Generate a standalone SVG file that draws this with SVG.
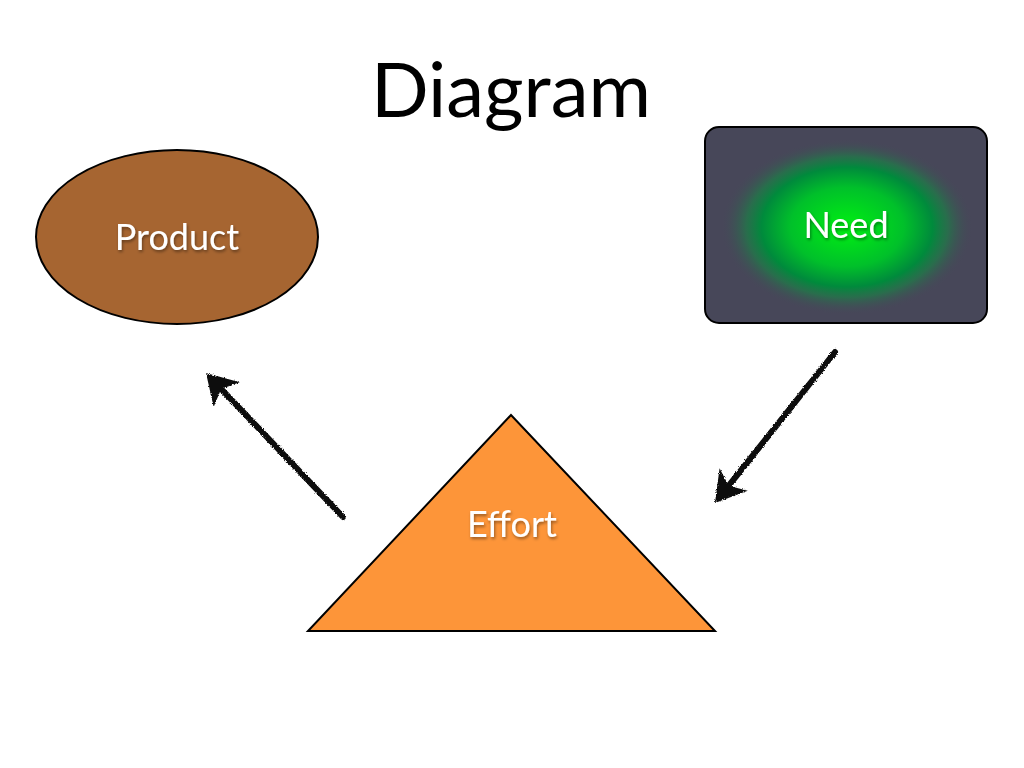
<svg xmlns="http://www.w3.org/2000/svg" width="1024" height="768" viewBox="0 0 1024 768">
<defs>
<style>
.label{font-family:Lato,"Liberation Sans",sans-serif;font-size:36px;fill:#ffffff;text-anchor:middle;filter:url(#shadow)}
.title{font-family:Lato,"Liberation Sans",sans-serif;font-size:76px;fill:#000000;text-anchor:middle}
.shape{stroke:#000000;stroke-width:2}
.conn{fill:none;stroke:#111111;stroke-width:6;stroke-linecap:round;marker-end:url(#head);filter:url(#rough)}
</style>
<filter id="shadow" x="-20%" y="-30%" width="140%" height="160%">
<feDropShadow dx="1" dy="2" stdDeviation="1.5" flood-color="#000000" flood-opacity="0.4"/>
</filter>
<filter id="rough" x="-10%" y="-10%" width="120%" height="120%">
<feTurbulence type="fractalNoise" baseFrequency="0.9" numOctaves="2" seed="3" result="n"/>
<feDisplacementMap in="SourceGraphic" in2="n" scale="3" xChannelSelector="R" yChannelSelector="G"/>
</filter>
<radialGradient id="glow" cx="0.5" cy="0.5" r="0.5">
<stop offset="0" stop-color="#00F012"/>
<stop offset="0.45" stop-color="#00C02A"/>
<stop offset="0.68" stop-color="#008A3C"/>
<stop offset="0.8" stop-color="#1F7A48" stop-opacity="0.75"/>
<stop offset="1" stop-color="#474759" stop-opacity="0"/>
</radialGradient>
<marker id="head" markerUnits="userSpaceOnUse" viewBox="-22 -20 34 40" markerWidth="34" markerHeight="40" refX="0" refY="0" orient="auto">
<path d="M10,0 L-20,-18 L-12,0 L-20,18 Z" fill="#111111"/>
</marker>
</defs>
<rect width="1024" height="768" fill="#ffffff"/>
<text class="title" x="511" y="117">Diagram</text>
<g id="product">
<ellipse class="shape" cx="177" cy="237" rx="141" ry="87" fill="#A66531"/>
<text class="label" x="177" y="250">Product</text>
</g>
<g id="need">
<rect class="shape" x="705" y="127" width="282" height="196" rx="14" fill="#474759"/>
<ellipse cx="847" cy="227" rx="126" ry="88" fill="url(#glow)"/>
<text class="label" x="846" y="238">Need</text>
</g>
<g id="effort">
<polygon class="shape" points="511,415 308,631 715,631" fill="#FD9539"/>
<text class="label" x="512" y="537">Effort</text>
</g>
<g id="connectors">
<path class="conn" d="M343,517 L212.9,380.2"/>
<path class="conn" d="M835,352 L721.2,495.2"/>
</g>
</svg>
